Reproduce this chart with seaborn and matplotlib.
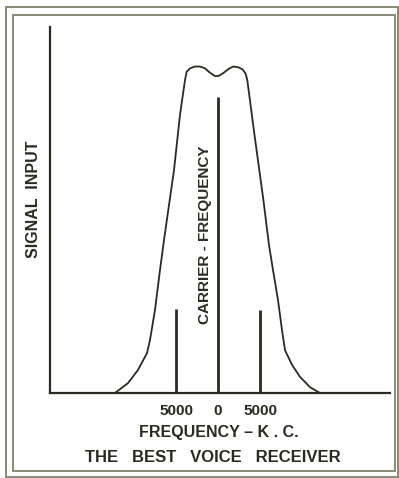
import matplotlib
matplotlib.use("Agg")
import matplotlib.pyplot as plt
from matplotlib.patches import Rectangle
import pandas as pd
import seaborn as sns

# response curve of the receiver (frequency off carrier in kc, relative signal)
freq = [-12262, -10714, -9524, -8452, -8095, -7500, -6905, -6429, -5238, -4524,
        -3929, -3726, -3333, -2738, -2143, -1548, -952, -357, 36, 631, 1226,
        1821, 2417, 2940, 3298, 3488, 4345, 5405, 6071, 6548, 7143, 7619, 7976,
        8810, 9762, 10952, 11905, 12143]
signal = [0, 2.7, 6.3, 10.9, 14.5, 22.7, 33.6, 41.8, 60.9, 76.0,
          85.5, 87.8, 88.7, 89.2, 89.2, 88.7, 87.5, 86.6, 86.6, 87.4, 88.5,
          89.2, 89.0, 88.4, 87.2, 85.5, 70.5, 52.7, 40.4, 33.6, 25.4, 17.2, 11.7,
          7.7, 4.4, 1.6, 0.3, 0]

# carrier and side bands
line_freq = [-5000, 0, 5000]
line_height = [23.0, 80.9, 22.8]
tick_pos = [-5000, 0, 5000]
tick_labels = ["5000", "0", "5000"]

ink = "#2a2a20"
frame = "#878b76"

sns.set_style("white")
plt.rcParams["font.family"] = ["Liberation Sans", "DejaVu Sans"]
plt.rcParams["font.weight"] = "bold"

W, H = 399, 478
fig = plt.figure(figsize=(W / 100, H / 100), dpi=100)
ax = fig.add_axes([50 / W, 85 / H, 340 / W, 366 / H])

df = pd.DataFrame({"freq": freq, "signal": signal})
sns.lineplot(data=df, x="freq", y="signal", sort=False, estimator=None,
             color=ink, linewidth=1.3, ax=ax)
ax.vlines(line_freq, 0, line_height, color=ink, linewidth=2.0)

ax.set_xlim(-20000, 20476)
ax.set_ylim(0, 100)
for side in ["top", "right"]:
    ax.spines[side].set_visible(False)
for side in ["left", "bottom"]:
    ax.spines[side].set_color(ink)
    ax.spines[side].set_linewidth(1.6)

ax.set_xticks(tick_pos)
ax.set_xticklabels(tick_labels, fontsize=11, color=ink, fontweight="bold")
ax.tick_params(axis="x", length=0, pad=8)
ax.set_yticks([])
ax.set_xlabel("FREQUENCY – K . C.", fontsize=11.5, color=ink, fontweight="bold")
ax.xaxis.set_label_coords((219 - 50) / 340, (393 - 432) / 366)
ax.xaxis.label.set_va("center")
ax.set_ylabel("SIGNAL  INPUT", fontsize=11.5, color=ink, fontweight="bold")
ax.yaxis.set_label_coords((33 - 50) / 340, (393 - 199) / 366)
ax.yaxis.label.set_va("center")

ax.text((205 - 50) / 340, (393 - 235) / 366, "CARRIER - FREQUENCY",
        transform=ax.transAxes, rotation=90, ha="center", va="center",
        fontsize=11, color=ink, fontweight="bold")

fig.text(212.5 / W, 1 - 457 / H, "THE   BEST   VOICE   RECEIVER",
         ha="center", va="center", fontsize=12, color=ink, fontweight="bold")

# double border
fig.patches.append(Rectangle((6 / W, 1 - 477 / H), 392 / W, 470 / H,
                             transform=fig.transFigure, fill=False,
                             edgecolor=frame, linewidth=1.4))
fig.patches.append(Rectangle((13 / W, 1 - 471 / H), 382 / W, 456 / H,
                             transform=fig.transFigure, fill=False,
                             edgecolor=frame, linewidth=1.4))

fig.savefig("out.png", dpi=100)
